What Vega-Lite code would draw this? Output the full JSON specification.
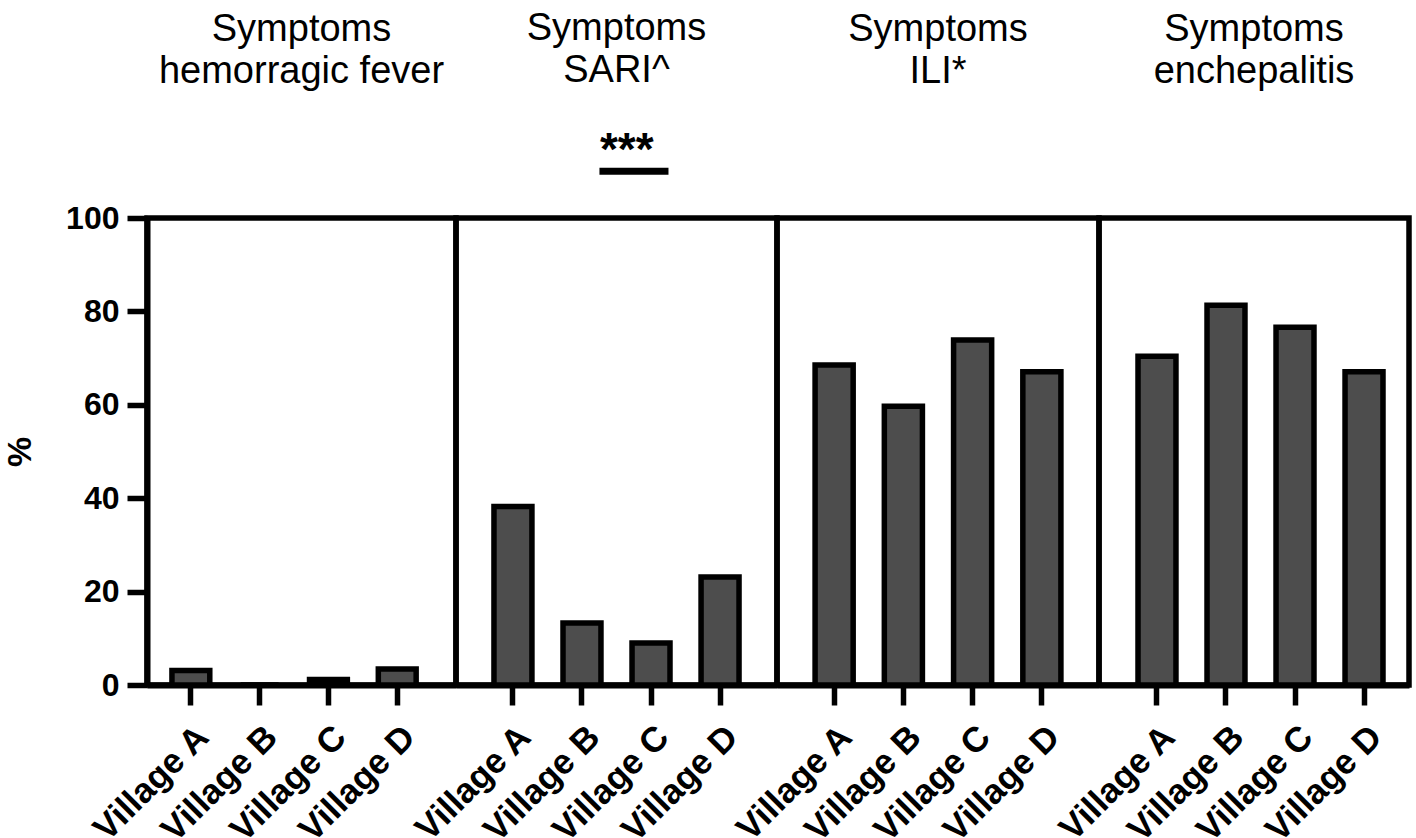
{
  "$schema": "https://vega.github.io/schema/vega-lite/v6.json",
  "padding": {"left": 0, "top": 6, "right": 0, "bottom": 0},
  "bounds": "flush",
  "spacing": 0,
  "data": {"values": [
    {"symptom": "hemorragic fever", "village": "Village A", "pct": 3.1},
    {"symptom": "hemorragic fever", "village": "Village B", "pct": 0},
    {"symptom": "hemorragic fever", "village": "Village C", "pct": 1.2},
    {"symptom": "hemorragic fever", "village": "Village D", "pct": 3.4},
    {"symptom": "SARI^", "village": "Village A", "pct": 38.2},
    {"symptom": "SARI^", "village": "Village B", "pct": 13.3},
    {"symptom": "SARI^", "village": "Village C", "pct": 9.0},
    {"symptom": "SARI^", "village": "Village D", "pct": 23.1},
    {"symptom": "ILI*", "village": "Village A", "pct": 68.5},
    {"symptom": "ILI*", "village": "Village B", "pct": 59.7},
    {"symptom": "ILI*", "village": "Village C", "pct": 73.9},
    {"symptom": "ILI*", "village": "Village D", "pct": 67.1},
    {"symptom": "enchepalitis", "village": "Village A", "pct": 70.4},
    {"symptom": "enchepalitis", "village": "Village B", "pct": 81.3},
    {"symptom": "enchepalitis", "village": "Village C", "pct": 76.6},
    {"symptom": "enchepalitis", "village": "Village D", "pct": 67.1}
  ]},
  "config": {
    "font": "Liberation Sans",
    "view": {"stroke": "black", "strokeWidth": 5.5},
    "axis": {"domainColor": "black", "domainWidth": 6, "tickColor": "black", "tickWidth": 5.5, "tickSize": 20, "labelColor": "black", "labelFont": "Liberation Sans", "labelFontWeight": "bold", "labelFontSize": 32, "grid": false, "titleFont": "Liberation Sans", "titleFontWeight": "bold", "titleFontSize": 34, "titleColor": "black"},
    "axisX": {"labelAngle": -45, "labelPadding": 14, "labelFontSize": 35},
    "axisY": {"labelPadding": 8, "titlePadding": 28},
    "title": {"font": "Liberation Sans", "fontSize": 38, "fontWeight": "normal", "color": "black", "lineHeight": 42.5, "anchor": "middle", "frame": "group", "offset": 127}
  },
  "hconcat": [
    {
      "width": 309, "height": 467,
      "title": {"text": ["Symptoms", "hemorragic fever"], "offset": 111},
      "transform": [{"filter": "datum.symptom === 'hemorragic fever'"}],
      "mark": {"type": "bar", "fill": "#4d4d4d", "stroke": "black", "strokeWidth": 5.5},
      "encoding": {
        "x": {"field": "village", "type": "nominal", "sort": null, "title": null, "scale": {"paddingInner": 0.45, "paddingOuter": 0.471, "align": 0.385}},
        "y": {"field": "pct", "type": "quantitative", "title": "%", "scale": {"domain": [0, 100]}, "axis": {"values": [0, 20, 40, 60, 80, 100]}}
      }
    },
    {
      "width": 321, "height": 467,
      "title": {"text": ["Symptoms", "SARI^"], "offset": 38},
      "transform": [{"filter": "datum.symptom === 'SARI^'"}],
      "layer": [
        {
          "mark": {"type": "bar", "fill": "#4d4d4d", "stroke": "black", "strokeWidth": 5.5},
          "encoding": {
            "x": {"field": "village", "type": "nominal", "sort": null, "title": null, "scale": {"paddingInner": 0.45, "paddingOuter": 0.55, "align": 0.5}},
            "y": {"field": "pct", "type": "quantitative", "scale": {"domain": [0, 100]}, "axis": null}
          }
        },
        {
          "transform": [{"filter": "datum.village === 'Village B' || datum.village === 'Village C'"}],
          "mark": {"type": "line", "color": "black", "strokeWidth": 7, "strokeCap": "butt"},
          "encoding": {
            "x": {"field": "village", "type": "nominal", "sort": null, "title": null, "bandPosition": 0.96},
            "y": {"datum": 110, "type": "quantitative", "scale": {"domain": [0, 100]}, "axis": null}
          }
        },
        {
          "transform": [{"filter": "datum.village === 'Village B'"}],
          "mark": {"type": "text", "text": "***", "fontSize": 46, "fontWeight": "bold", "baseline": "alphabetic", "align": "center", "color": "black"},
          "encoding": {
            "x": {"field": "village", "type": "nominal", "sort": null, "title": null, "bandPosition": 1.68},
            "y": {"datum": 111.3, "type": "quantitative", "scale": {"domain": [0, 100]}, "axis": null}
          }
        }
      ]
    },
    {
      "width": 322, "height": 467,
      "title": {"text": ["Symptoms", "ILI*"]},
      "transform": [{"filter": "datum.symptom === 'ILI*'"}],
      "mark": {"type": "bar", "fill": "#4d4d4d", "stroke": "black", "strokeWidth": 5.5},
      "encoding": {
        "x": {"field": "village", "type": "nominal", "sort": null, "title": null, "scale": {"paddingInner": 0.45, "paddingOuter": 0.55, "align": 0.5}},
        "y": {"field": "pct", "type": "quantitative", "scale": {"domain": [0, 100]}, "axis": null}
      }
    },
    {
      "width": 310, "height": 467,
      "title": {"text": ["Symptoms", "enchepalitis"]},
      "transform": [{"filter": "datum.symptom === 'enchepalitis'"}],
      "mark": {"type": "bar", "fill": "#4d4d4d", "stroke": "black", "strokeWidth": 5.5},
      "encoding": {
        "x": {"field": "village", "type": "nominal", "sort": null, "title": null, "scale": {"paddingInner": 0.45, "paddingOuter": 0.471, "align": 0.6}},
        "y": {"field": "pct", "type": "quantitative", "scale": {"domain": [0, 100]}, "axis": null}
      }
    }
  ]
}
